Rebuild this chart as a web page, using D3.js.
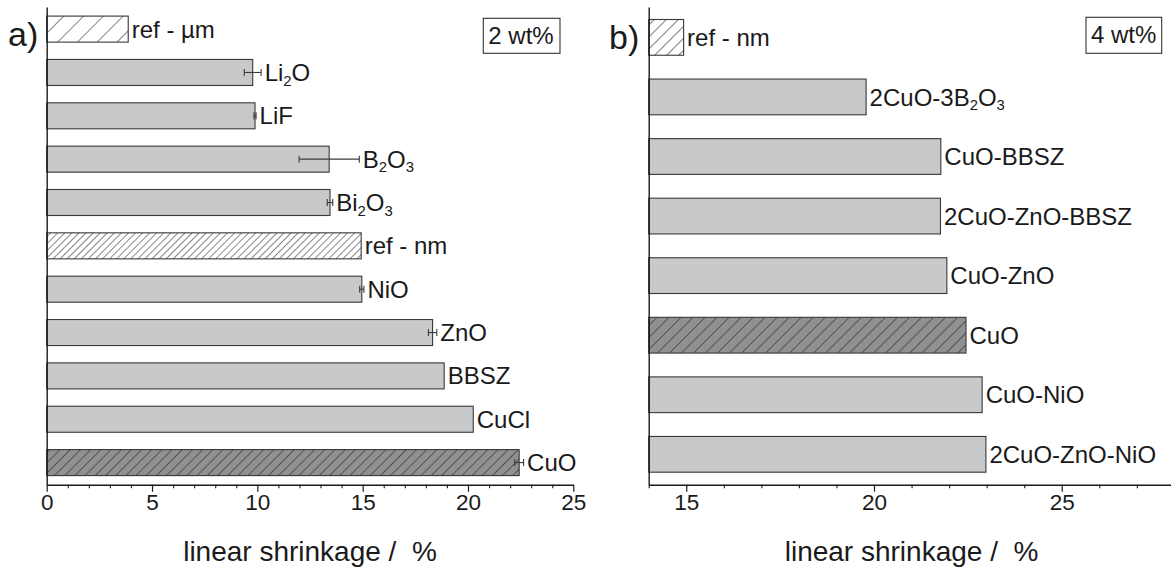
<!DOCTYPE html>
<html>
<head>
<meta charset="utf-8">
<script src="https://cdn.jsdelivr.net/npm/d3@7"></script>
<style>
  html, body { margin: 0; padding: 0; background: #fff; }
  svg { display: block; font-family: "Liberation Sans", Arial, Helvetica, sans-serif; }
</style>
</head>
<body>
<svg id="chart" width="1171" height="571"></svg>
<script>
// ---------------- data ----------------
const leftCategories = ["ref - µm", "Li_2O", "LiF", "B_2O_3", "Bi_2O_3", "ref - nm", "NiO", "ZnO", "BBSZ", "CuCl", "CuO"];
const leftValues     = [3.87, 9.78, 9.89, 13.41, 13.45, 14.93, 14.96, 18.32, 18.87, 20.25, 22.43];
const leftErrors     = [null, 0.40, 0.05, 1.43, 0.13, null, 0.10, 0.20, null, null, 0.21];
const leftKinds      = ["refCoarse", "plain", "plain", "plain", "plain", "refFine", "plain", "plain", "plain", "plain", "cuoLeft"];
const leftTicks      = [0, 5, 10, 15, 20, 25];
const leftMinorTicks = [1, 2, 3, 4, 6, 7, 8, 9, 11, 12, 13, 14, 16, 17, 18, 19, 21, 22, 23, 24];

const rightCategories = ["ref - nm", "2CuO-3B_2O_3", "CuO-BBSZ", "2CuO-ZnO-BBSZ", "CuO-ZnO", "CuO", "CuO-NiO", "2CuO-ZnO-NiO"];
const rightValues     = [14.93, 19.79, 21.78, 21.77, 21.94, 22.45, 22.88, 22.98];
const rightKinds      = ["refRight", "plain", "plain", "plain", "plain", "cuoRight", "plain", "plain"];
const rightTicks      = [15, 20, 25];
const rightMinorTicks = [14, 16, 17, 18, 19, 21, 22, 23, 24, 26, 27, 28];

const panelLetters = ["a)", "b)"];
const boxLabels    = ["2 wt%", "4 wt%"];
const axisTitle    = "linear shrinkage /  %";

// ---------------- setup ----------------
const svg = d3.select("#chart");
const ink = "#1a1a1a";

const defs = svg.append("defs");
function hatch(id, spacing, bg) {
  const p = defs.append("pattern")
    .attr("id", id)
    .attr("patternUnits", "userSpaceOnUse")
    .attr("width", spacing).attr("height", spacing)
    .attr("patternTransform", "rotate(45)");
  p.append("rect").attr("width", spacing).attr("height", spacing).attr("fill", bg);
  p.append("line").attr("x1", 0).attr("y1", 0).attr("x2", 0).attr("y2", spacing)
    .attr("stroke", "#222").attr("stroke-width", 1.1);
}
hatch("refCoarse", 14, "#ffffff");
hatch("refFine", 5, "#ffffff");
hatch("cuoLeft", 7.2, "#8f9092");
hatch("refRight", 8.5, "#ffffff");
hatch("cuoRight", 8.5, "#8f9092");

const fillFor = k => k === "plain" ? "#c8c9cb" : `url(#${k})`;

function richText(sel, label, fontSize) {
  const parts = label.split(/(_\d)/).filter(s => s.length);
  let lowered = false;
  parts.forEach(part => {
    if (part.startsWith("_")) {
      sel.append("tspan").attr("font-size", fontSize * 0.62).attr("dy", lowered ? 0 : 4.5).text(part.slice(1));
      lowered = true;
    } else {
      const t = sel.append("tspan").text(part);
      if (lowered) { t.attr("dy", -4.5); lowered = false; }
    }
  });
}

const yTop = 7, yBottom = 484.7;

function panel(opts) {
  const { cats, vals, errs, kinds, x, ticks, minor, letter, letterPos, box } = opts;
  const g = svg.append("g");
  const y = d3.scaleBand().domain(cats).range([yTop, yBottom]).paddingInner(0.4).paddingOuter(0.21);

  // bars
  g.selectAll("rect.bar").data(cats).join("rect")
    .attr("class", "bar")
    .attr("x", x.range()[0])
    .attr("y", d => y(d))
    .attr("width", (d, i) => x(vals[i]) - x.range()[0])
    .attr("height", y.bandwidth())
    .attr("fill", (d, i) => fillFor(kinds[i]))
    .attr("stroke", "#383838")
    .attr("stroke-width", 1.1);

  // error bars
  if (errs) {
    const eg = g.append("g").attr("stroke", "#3a3a3a").attr("stroke-width", 1.1);
    cats.forEach((c, i) => {
      const e = errs[i];
      if (e == null) return;
      const cy = y(c) + y.bandwidth() / 2;
      const x1 = x(vals[i] - e), x2 = x(vals[i] + e);
      eg.append("line").attr("x1", x1).attr("x2", x2).attr("y1", cy).attr("y2", cy);
      eg.append("line").attr("x1", x1).attr("x2", x1).attr("y1", cy - 3.5).attr("y2", cy + 3.5);
      eg.append("line").attr("x1", x2).attr("x2", x2).attr("y1", cy - 3.5).attr("y2", cy + 3.5);
    });
  }

  // bar labels
  cats.forEach((c, i) => {
    const e = errs && errs[i] != null ? errs[i] : 0;
    const t = g.append("text")
      .attr("x", x(vals[i] + e) + 3.5)
      .attr("y", y(c) + y.bandwidth() / 2 + 8.6)
      .attr("font-size", 24)
      .attr("fill", ink);
    richText(t, c, 24);
  });

  // axes
  const x0 = x.range()[0];
  const xAxisMajor = d3.axisBottom(x).tickValues(ticks).tickSize(7).tickSizeOuter(0).tickPadding(3);
  const ax = g.append("g").attr("transform", `translate(0,${yBottom})`).call(xAxisMajor);
  ax.select(".domain").attr("stroke", ink).attr("stroke-width", 1.4);
  ax.selectAll(".tick line").attr("stroke", ink).attr("stroke-width", 1.2);
  ax.selectAll(".tick text").attr("font-size", 22.5).attr("fill", ink)
    .attr("font-family", "'Liberation Sans', Arial, sans-serif")
    .attr("y", 25).attr("dy", null);

  const xAxisMinor = d3.axisBottom(x).tickValues(minor).tickSize(3.5).tickFormat("");
  const mx = g.append("g").attr("transform", `translate(0,${yBottom})`).call(xAxisMinor);
  mx.select(".domain").remove();
  mx.selectAll(".tick line").attr("stroke", ink).attr("stroke-width", 1.1);

  const yAxis = d3.axisLeft(y).tickValues([]).tickSizeOuter(0);
  const ay = g.append("g").attr("transform", `translate(${x0},0)`).call(yAxis);
  ay.select(".domain").attr("stroke", ink).attr("stroke-width", 1.4);

  // axis title
  const [r0, r1] = x.range();
  g.append("text")
    .attr("x", (r0 + r1) / 2)
    .attr("y", 561)
    .attr("text-anchor", "middle")
    .attr("font-size", 28)
    .attr("fill", ink)
    .style("white-space", "pre")
    .text(axisTitle);

  // panel letter
  g.append("text").attr("x", letterPos[0]).attr("y", letterPos[1])
    .attr("font-size", 34).attr("fill", ink).text(letter);

  // wt% box
  g.append("rect").attr("x", box.x).attr("y", box.y).attr("width", box.w).attr("height", box.h)
    .attr("fill", "#fff").attr("stroke", "#333").attr("stroke-width", 1.1);
  g.append("text").attr("x", box.x + 5).attr("y", box.y + 25.5)
    .attr("font-size", 24).attr("fill", ink).text(box.label);
}

panel({
  cats: leftCategories, vals: leftValues, errs: leftErrors, kinds: leftKinds,
  x: d3.scaleLinear().domain([0, 25]).range([46.7, 573.3]),
  ticks: leftTicks, minor: leftMinorTicks,
  letter: panelLetters[0], letterPos: [8, 46],
  box: { x: 483.3, y: 18.3, w: 76.7, h: 35, label: boxLabels[0] }
});

panel({
  cats: rightCategories, vals: rightValues, errs: null, kinds: rightKinds,
  x: d3.scaleLinear().domain([14, 28]).range([648.7, 1174.4]),
  ticks: rightTicks, minor: rightMinorTicks,
  letter: panelLetters[1], letterPos: [609, 49],
  box: { x: 1086, y: 17.3, w: 75.7, h: 36, label: boxLabels[1] }
});
</script>
</body>
</html>
